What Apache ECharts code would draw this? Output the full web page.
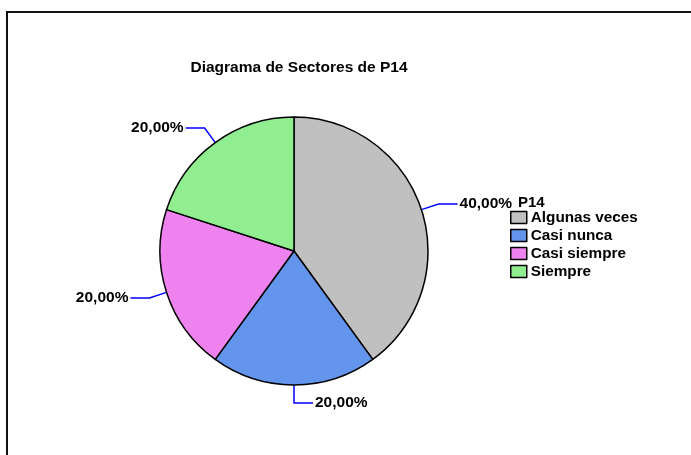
<!DOCTYPE html>
<html>
<head>
<meta charset="utf-8">
<script src="https://cdn.jsdelivr.net/npm/echarts@6/dist/echarts.min.js"></script>
<style>
  html, body { margin: 0; padding: 0; background: #fff; overflow: hidden; }
  #frame {
    position: absolute; left: 6px; top: 11px; width: 700px; height: 460px;
    border: 2px solid #111; box-sizing: border-box;
  }
  #chart { position: absolute; left: 0; top: 0; width: 691px; height: 455px; }
</style>
</head>
<body>
<div id="frame"></div>
<div id="chart"></div>
<script>
// datos del diagrama
const categories = ['Algunas veces', 'Casi nunca', 'Casi siempre', 'Siempre']
const percents = [40, 20, 20, 20]
const colors = ['#c0c0c0', '#6495ed', '#ee82ee', '#90ee90']

const font = 'Liberation Sans, Arial, sans-serif'

const chart = echarts.init(document.getElementById('chart'), null, { renderer: 'canvas' })

const option = {
  backgroundColor: 'transparent',
  animation: false,
  title: [
    {
      text: 'Diagrama de Sectores de P14',
      left: 294,
      top: 55,
      textAlign: 'center',
      textStyle: { fontFamily: font, fontSize: 15.5, fontWeight: 'bold', color: '#000' },
    },
    {
      text: 'P14',
      left: 513,
      top: 190,
      textStyle: { fontFamily: font, fontSize: 15, fontWeight: 'bold', color: '#000' },
    },
  ],
  legend: {
    orient: 'vertical',
    left: 505,
    top: 205,
    itemWidth: 16,
    itemHeight: 12,
    itemGap: 3,
    icon: 'rect',
    data: categories,
    textStyle: { fontFamily: font, fontSize: 15.3, fontWeight: 'bold', color: '#000', padding: [0, 0, 0, -1] },
    itemStyle: { borderColor: '#000', borderWidth: 1.5 },
  },
  series: [
    {
      type: 'pie',
      center: [294, 251],
      radius: 134,
      startAngle: 90,
      clockwise: true,
      avoidLabelOverlap: false,
      data: categories.map((name, i) => ({
        name,
        value: percents[i],
        itemStyle: { color: colors[i] },
      })),
      itemStyle: { borderColor: '#000', borderWidth: 1.5 },
      emphasis: { disabled: true },
      label: {
        show: true,
        position: 'outside',
        formatter: (p) => p.value.toFixed(2).replace('.', ',') + '%',
        fontFamily: font,
        fontSize: 15.5,
        fontWeight: 'bold',
        color: '#000',
        distanceToLabelLine: 2,
      },
      labelLine: {
        show: true,
        length: 18,
        length2: 19,
        smooth: false,
        lineStyle: { color: '#0000ff', width: 1.5 },
      },
    },
  ],
}

chart.setOption(option)
</script>
</body>
</html>
